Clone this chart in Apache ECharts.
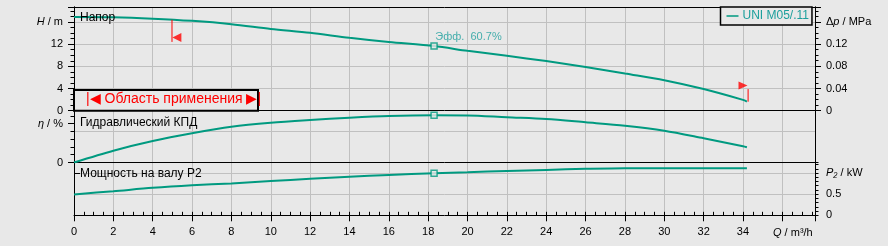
<!DOCTYPE html>
<html>
<head>
<meta charset="utf-8">
<script src="https://cdn.jsdelivr.net/npm/echarts@6/dist/echarts.min.js"></script>
<style>
  html, body { margin: 0; padding: 0; background: #e8e8e8; }
  #chart { width: 888px; height: 246px; }
</style>
</head>
<body>
<div id="chart"></div>
<script>
  // расход Q, м3/ч
  const q = [0, 2, 4, 6, 8, 10, 12, 14, 16, 18.3, 20, 22, 24, 26, 28, 30, 32, 34, 34.2];
  // напор H, м
  const headM = [16.9, 16.85, 16.6, 16.2, 15.6, 14.75, 14.05, 13.15, 12.4, 11.65, 10.8, 9.9, 8.95, 7.9, 6.7, 5.5, 3.9, 1.95, 1.65];
  // гидравлический КПД, %
  const effPct = [0, 15.2, 27.6, 37.6, 46.0, 51.2, 54.7, 57.6, 59.8, 60.7, 60.5, 58.1, 55.9, 51.7, 47.3, 40.9, 31.1, 20.8, 19.5];
  // мощность на валу P2, кВт
  const powerKW = [0.495, 0.57, 0.65, 0.71, 0.755, 0.81, 0.865, 0.915, 0.955, 0.995, 1.02, 1.05, 1.075, 1.1, 1.115, 1.115, 1.115, 1.115, 1.115];

  // рабочая точка: Q, H, КПД, P2
  const duty = [18.3, 11.65, 60.7, 0.995];
  const dutyLabel = 'Эфф.  60.7%';

  // границы области применения
  const leftLimitLine = [[4.98, 16.4], [4.98, 12.4]];
  const leftFlag = [5.23, 13.2];
  const rightLimitLine = [[34.26, 1.62], [34.26, 3.9]];
  const rightFlag = [34.0, 4.55];

  const pumpName = 'UNI M05/.11';
  const xLabelText = '{i|Q} / m³/h';

  const TEAL = '#009a80';
  const TEAL_TXT = '#1b9f9c';
  const GRID_C = '#c0c0c0';
  const FONT = 'Liberation Sans, Arial, sans-serif';
  const QMAX = 37.66;

  const chart = echarts.init(document.getElementById('chart'));

  const rich = { i: { fontStyle: 'italic', fontSize: 11, fontFamily: FONT, color: '#000' } };
  const lbl = { fontSize: 11, fontFamily: FONT, color: '#000', rich: rich };

  // x оси: 0,1,2 — нижние границы панелей; 3 — верхняя рамка; 4 — мелкие риски
  function xAx(grid, extra) {
    return Object.assign({
      type: 'value', gridIndex: grid, min: 0, max: QMAX, interval: 2,
      axisLine: { show: true, onZero: false, lineStyle: { color: '#000', width: 1 } },
      axisTick: { show: false },
      axisLabel: { show: false },
      splitLine: { show: true, showMinLine: false, showMaxLine: false, lineStyle: { color: GRID_C, width: 1 } },
    }, extra);
  }

  function yAx(grid, pos, min, max, interval, extra) {
    return Object.assign({
      type: 'value', gridIndex: grid, position: pos, min: min, max: max, interval: interval,
      axisLine: { show: true, lineStyle: { color: '#000', width: 1 } },
      axisTick: { show: false },
      axisLabel: { show: false },
      splitLine: { show: false },
    }, extra);
  }

  const near = (a, b) => Math.abs(a - b) < 1e-6;

  const option = {
    backgroundColor: '#e8e8e8',
    animation: false,
    textStyle: { fontFamily: FONT },
    grid: [
      { left: 74, right: 73, top: 7, height: 103.7 },
      { left: 74, right: 73, top: 110.7, height: 51.8 },
      { left: 74, right: 73, top: 162.5, height: 52.8 },
    ],
    legend: {
      data: [pumpName],
      selectedMode: false,
      left: 720.5, top: 7,
      padding: [3, 3, 3, 6],
      backgroundColor: '#e8e8e8',
      borderColor: '#000', borderWidth: 1.5, borderRadius: 0,
      icon: 'rect', itemWidth: 12, itemHeight: 1.5,
      textStyle: { color: TEAL_TXT, fontSize: 12, fontFamily: FONT, padding: [0, 0, 0, -1] },
    },
    xAxis: [
      xAx(0, {}),
      xAx(1, {}),
      xAx(2, {
        axisTick: { show: true, length: 6, lineStyle: { color: '#000' } },
        axisLabel: {
          show: true, margin: 11, fontSize: 11, fontFamily: FONT, color: '#000',
          formatter: v => (near(v % 2, 0) && v < 35 ? String(v) : ''),
        },
      }),
      xAx(0, { position: 'top', splitLine: { show: false } }),
      xAx(2, {
        interval: 0.5, axisLine: { show: false },
        axisTick: { show: true, length: 3.5, lineStyle: { color: '#000' } },
        splitLine: { show: false },
      }),
    ],
    yAxis: [
      // 0: напор H
      yAx(0, 'left', 0, 18.7, 4, {
        axisTick: { show: true, length: 6, lineStyle: { color: '#000' } },
        axisLabel: Object.assign({ show: true, margin: 11,
          formatter: v => (near(v, 16) ? '{i|H} / m' : (v < 15 ? String(v) : '')) }, lbl),
        splitLine: { show: true, showMinLine: false, showMaxLine: false, lineStyle: { color: GRID_C } },
      }),
      yAx(0, 'left', 0, 18.7, 1, { axisTick: { show: true, length: 3.5, lineStyle: { color: '#000' } } }),
      // 2: Δp, МПа
      yAx(0, 'right', 0, 0.1868, 0.04, {
        axisTick: { show: true, length: 6, lineStyle: { color: '#000' } },
        axisLabel: Object.assign({ show: true, margin: 11,
          formatter: v => (near(v, 0.16) ? 'Δ{i|p} / MPa' : (v < 0.15 ? String(+v.toFixed(2)) : '')) }, lbl),
      }),
      yAx(0, 'right', 0, 0.1868, 0.01, { axisTick: { show: true, length: 3.5, lineStyle: { color: '#000' } } }),
      // 4: КПД
      yAx(1, 'left', 0, 66.6, 50, {
        axisTick: { show: true, length: 6, lineStyle: { color: '#000' } },
        axisLabel: Object.assign({ show: true, margin: 11,
          formatter: v => (near(v, 0) ? '0' : (near(v, 50) ? '{i|η} / %' : '')) }, lbl),
      }),
      yAx(1, 'left', 0, 66.6, 10, { axisTick: { show: true, length: 3.5, lineStyle: { color: '#000' } } }),
      yAx(1, 'left', 0, 66.6, 40, {
        axisLine: { show: false },
        splitLine: { show: true, showMinLine: false, showMaxLine: false, lineStyle: { color: GRID_C } },
      }),
      yAx(1, 'right', 0, 66.6, 10, {}),
      // 8: P2
      yAx(2, 'left', 0, 1.25, 0.5, {}),
      yAx(2, 'right', 0, 1.25, 0.5, {
        axisTick: { show: true, length: 6, lineStyle: { color: '#000' } },
        axisLabel: Object.assign({ show: true, margin: 11,
          formatter: v => (near(v, 1) ? '{i|P₂} / kW' : (v < 0.9 ? String(v) : '')) }, lbl),
        splitLine: { show: true, showMinLine: false, showMaxLine: false, lineStyle: { color: GRID_C } },
      }),
      yAx(2, 'right', 0, 1.25, 0.1, { axisTick: { show: true, length: 3.5, lineStyle: { color: '#000' } } }),
    ],
    series: [
      {
        name: pumpName, type: 'line', xAxisIndex: 0, yAxisIndex: 0,
        data: q.map((x, i) => [x, headM[i]]),
        smooth: 0.3, showSymbol: false, lineStyle: { color: TEAL, width: 2 }, itemStyle: { color: TEAL }, z: 3,
      },
      {
        name: 'eta', type: 'line', xAxisIndex: 1, yAxisIndex: 4,
        data: q.map((x, i) => [x, effPct[i]]),
        smooth: 0.3, showSymbol: false, lineStyle: { color: TEAL, width: 2 }, z: 3,
      },
      {
        name: 'p2', type: 'line', xAxisIndex: 2, yAxisIndex: 9,
        data: q.map((x, i) => [x, powerKW[i]]),
        smooth: 0.3, showSymbol: false, lineStyle: { color: TEAL, width: 2 }, z: 3,
      },
      {
        type: 'scatter', xAxisIndex: 0, yAxisIndex: 0, data: [[duty[0], duty[1]]],
        symbol: 'rect', symbolSize: 6, z: 4,
        itemStyle: { color: '#e8e8e8', borderColor: TEAL, borderWidth: 1.5 },
        label: { show: true, formatter: dutyLabel, position: [5, -11], color: TEAL_TXT, fontSize: 11, fontFamily: FONT },
      },
      {
        type: 'scatter', xAxisIndex: 1, yAxisIndex: 4, data: [[duty[0], duty[2]]],
        symbol: 'rect', symbolSize: 6, z: 4,
        itemStyle: { color: '#e8e8e8', borderColor: TEAL, borderWidth: 1.5 },
      },
      {
        type: 'scatter', xAxisIndex: 2, yAxisIndex: 9, data: [[duty[0], duty[3]]],
        symbol: 'rect', symbolSize: 6, z: 4,
        itemStyle: { color: '#e8e8e8', borderColor: TEAL, borderWidth: 1.5 },
      },
      // красные границы
      {
        type: 'line', xAxisIndex: 0, yAxisIndex: 0, data: leftLimitLine, showSymbol: false,
        lineStyle: { color: '#ff0000', width: 1 }, z: 5,
      },
      {
        type: 'line', xAxisIndex: 0, yAxisIndex: 0, data: rightLimitLine, showSymbol: false,
        lineStyle: { color: '#ff0000', width: 1 }, z: 5,
      },
      {
        type: 'scatter', xAxisIndex: 0, yAxisIndex: 0, data: [leftFlag],
        symbol: 'triangle', symbolSize: [9, 9], symbolRotate: 90, itemStyle: { color: '#ff0000' }, z: 5,
      },
      {
        type: 'scatter', xAxisIndex: 0, yAxisIndex: 0, data: [rightFlag],
        symbol: 'triangle', symbolSize: [8, 9], symbolRotate: -90, itemStyle: { color: '#ff0000' }, z: 5,
      },
    ],
    graphic: [
      { type: 'text', left: 80, top: 12, style: { text: 'Напор', font: '12px ' + FONT, fill: '#000' }, z: 10 },
      { type: 'text', left: 80, top: 117, style: { text: 'Гидравлический КПД', font: '12px ' + FONT, fill: '#000' }, z: 10 },
      { type: 'text', left: 80, top: 168, style: { text: 'Мощность на валу P2', font: '12px ' + FONT, fill: '#000' }, z: 10 },
      {
        type: 'rect', shape: { x: 74, y: 90, width: 184, height: 20.7 },
        style: { fill: '#e8e8e8', stroke: '#000', lineWidth: 2 }, z: 10,
      },
      {
        type: 'text', left: 86, top: 92,
        style: { text: '|◀ Область применения ▶|', font: '14px ' + FONT, fill: '#ff0000' }, z: 11,
      },
      {
        type: 'text', left: 773, top: 227,
        style: {
          text: xLabelText, font: '11px ' + FONT, fill: '#000',
          rich: { i: { fontStyle: 'italic', font: 'italic 11px ' + FONT, fill: '#000' } },
        }, z: 10,
      },
    ],
  };

  chart.setOption(option);
</script>
</body>
</html>
